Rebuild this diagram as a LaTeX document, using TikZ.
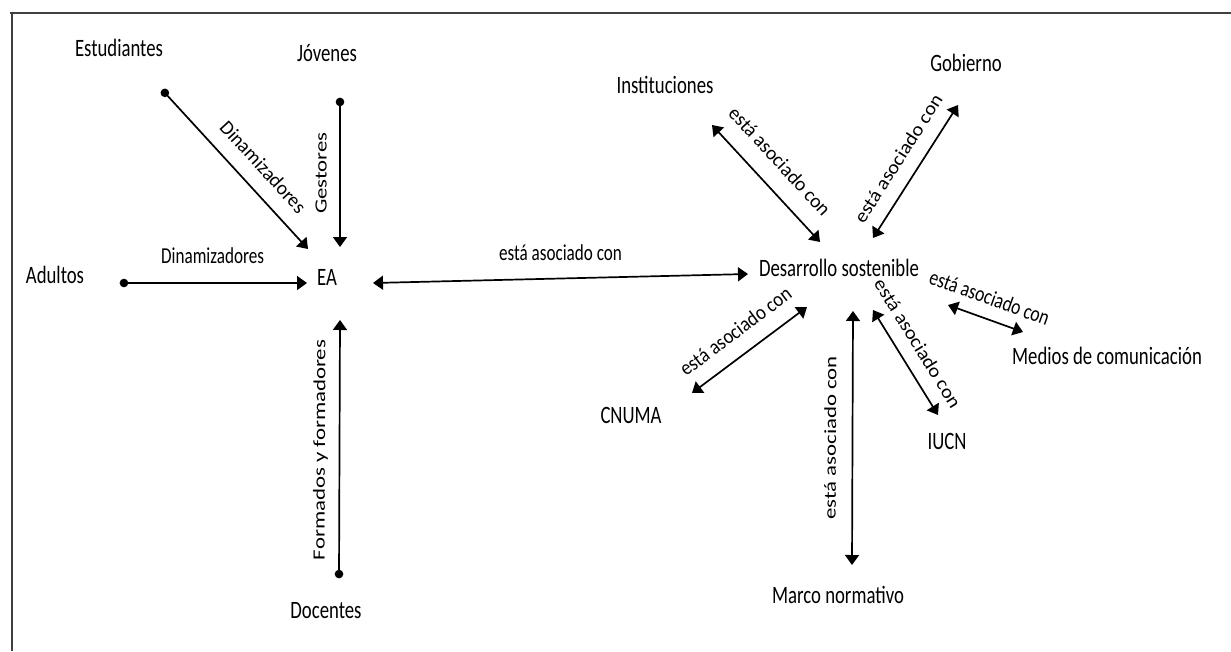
\documentclass[tikz,border=0pt]{standalone}
\usepackage{fontspec}
\setmainfont{Carlito}
\newfontfamily\cfN[FakeStretch=0.75]{Carlito}
\newfontfamily\cfH[FakeStretch=0.75]{Carlito}
\newfontfamily\cfV[FakeStretch=1.333]{Carlito}
\newfontfamily\cfA[FakeStretch=0.98]{Carlito}
\newfontfamily\cfB[FakeStretch=1.09]{Carlito}
\newfontfamily\cfC[FakeStretch=0.89]{Carlito}
\newfontfamily\cfD[FakeStretch=0.79]{Carlito}
\usetikzlibrary{arrows.meta}
\tikzset{
  frame/.style={line width=2pt, draw=black!75},
  concept/.style={font=\cfN\fontsize{25}{30}\selectfont, inner sep=0pt, text height=18pt, text depth=5pt},
  labH/.style={font=\cfH\fontsize{22.8}{27}\selectfont, inner sep=0pt, text height=16.4pt, text depth=4.6pt},
  labV/.style={font=\cfV\fontsize{17.1}{20}\selectfont, inner sep=0pt, text height=12.3pt, text depth=3.4pt},
  labA/.style={font=\cfA\fontsize{19.9}{24}\selectfont, inner sep=0pt, text height=14.3pt, text depth=4pt},
  labB/.style={font=\cfB\fontsize{18.9}{23}\selectfont, inner sep=0pt, text height=13.6pt, text depth=3.8pt},
  labC/.style={font=\cfC\fontsize{20.9}{25}\selectfont, inner sep=0pt, text height=15pt, text depth=4.2pt},
  labD/.style={font=\cfD\fontsize{22.2}{26}\selectfont, inner sep=0pt, text height=16pt, text depth=4.4pt},
  conn/.style={line width=1.7pt, {Circle[length=8.5pt]}-{Triangle[length=10pt,width=14pt]}},
  both/.style={line width=1.7pt, {Triangle[length=10pt,width=14pt]}-{Triangle[length=10pt,width=14pt]}},
}
\begin{document}
\begin{tikzpicture}[x=1pt,y=-1pt]
\useasboundingbox (0,0) rectangle (1231,651);
\fill[white] (0,0) rectangle (1231,651);
\draw[frame] (10,12.5) -- (1231,12.5);
\draw[frame] (11.5,12.5) -- (11.5,651);
% concepts
\node[concept] (est) at (119,50) {Estudiantes};
\node[concept] (jov) at (327,55) {Jóvenes};
\node[concept] (adu) at (55,277) {Adultos};
\node[concept] (ea)  at (327,279) {EA};
\node[concept] (doc) at (326,612) {Docentes};
\node[concept] (des) at (839,270) {Desarrollo sostenible};
\node[concept] (ins) at (665,87) {Instituciones};
\node[concept] (gob) at (966,65) {Gobierno};
\node[concept] (cnu) at (631,417) {CNUMA};
\node[concept] (mar) at (838,597) {Marco normativo};
\node[concept] (iuc) at (947,443) {IUCN};
\node[concept] (med) at (1107,358) {Medios de comunicación};
% connectors to EA
\draw[conn] ([shift={(43,39.7)}]est.center) --
  node[labA, sloped, pos=.58, anchor=south, inner ysep=10.9pt] {Dinamizadores}
  ([shift={(-19,-30)}]ea.center);
\draw[conn] ([shift={(13,42.7)}]jov.center) --
  node[labV, pos=.505, rotate=90, anchor=south, inner ysep=9.2pt] {Gestores}
  ([shift={(13,-32)}]ea.center);
\draw[conn] ([shift={(64.7,6)}]adu.center) --
  node[labH, pos=.496, anchor=south, inner ysep=14.5pt] {Dinamizadores}
  ([shift={(-20,4)}]ea.center);
\draw[conn] ([shift={(13,-33.7)}]doc.center) --
  node[labV, sloped, pos=.497, anchor=south, inner ysep=10.2pt] {Formados y formadores}
  ([shift={(13,41)}]ea.center);
% EA -- Desarrollo
\draw[both] ([shift={(46,4)}]ea.center) --
  node[labH, pos=.5, anchor=south, inner ysep=13pt] {está asociado con}
  ([shift={(-91,4)}]des.center);
% around Desarrollo sostenible
\draw[both] ([shift={(47,38)}]ins.center) --
  node[labA, sloped, pos=.457, anchor=south, inner ysep=13.6pt] {está asociado con}
  ([shift={(-19,-28)}]des.center);
\draw[both] ([shift={(34,-32)}]des.center) --
  node[labB, sloped, pos=.51, anchor=south, inner ysep=10.5pt] {está asociado con}
  ([shift={(-8,40)}]gob.center);
\draw[both] ([shift={(61,-24)}]cnu.center) --
  node[labC, sloped, pos=.5, anchor=south, inner ysep=11.4pt] {está asociado con}
  ([shift={(-32,37)}]des.center);
\draw[both] ([shift={(14,-32)}]mar.center) --
  node[labV, sloped, pos=.5, anchor=south, inner ysep=12.2pt] {está asociado con}
  ([shift={(14,41)}]des.center);
\draw[both] ([shift={(34,40)}]des.center) --
  node[labB, sloped, pos=.42, anchor=south, inner ysep=9.5pt] {está asociado con}
  ([shift={(-9,-28)}]iuc.center);
\draw[both] ([shift={(109,35)}]des.center) --
  node[labD, sloped, pos=.46, anchor=south, inner ysep=8.4pt] {está asociado con}
  ([shift={(-84,-26)}]med.center);
\end{tikzpicture}
\end{document}
